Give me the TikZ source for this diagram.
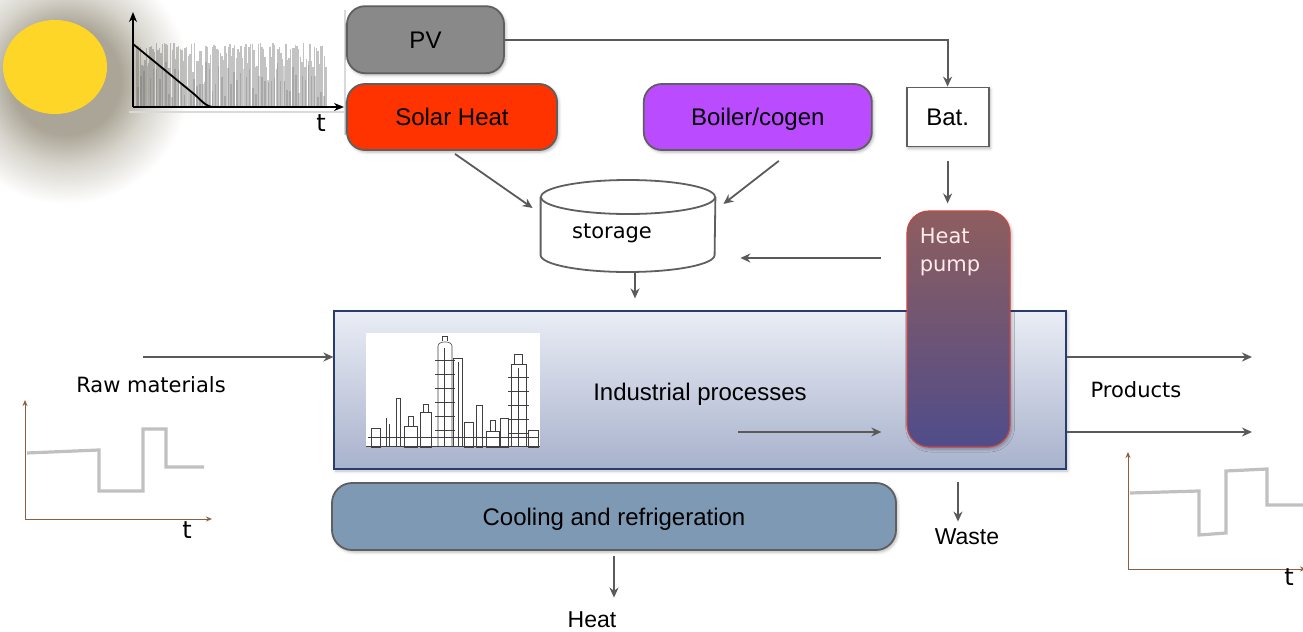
\documentclass[tikz,border=0pt]{standalone}
\usepackage{fontspec}
\setmainfont{Liberation Sans}
\newfontfamily\verdana{DejaVu Sans}
\usepackage{tikz}
\usetikzlibrary{arrows.meta, positioning, calc, shadows.blur}
\definecolor{EdgeGray}{RGB}{95, 95, 95}
\definecolor{ArrowGray}{RGB}{90, 90, 90}
\definecolor{PVGray}{RGB}{137, 137, 137}
\definecolor{SolarRed}{RGB}{255, 51, 0}
\definecolor{BoilerPurple}{RGB}{187, 75, 255}
\definecolor{CoolBlue}{RGB}{126, 153, 180}
\definecolor{ProcTop}{RGB}{234, 237, 245}
\definecolor{ProcBottom}{RGB}{168, 178, 204}
\definecolor{ProcEdge}{RGB}{40, 60, 110}
\definecolor{HPTop}{RGB}{142, 94, 94}
\definecolor{HPMid}{RGB}{138, 80, 86}
\definecolor{HPBottom}{RGB}{80, 76, 138}
\definecolor{HPEdge}{RGB}{200, 70, 70}
\definecolor{SunYellow}{RGB}{253, 214, 39}
\definecolor{GlowDark}{RGB}{170, 165, 150}
\definecolor{GlowMid}{RGB}{215, 212, 204}
\definecolor{AxisBrown}{RGB}{140, 95, 65}
\definecolor{StepGray}{RGB}{192, 192, 192}
\definecolor{NoiseGray}{RGB}{105, 105, 105}
\pgfdeclareradialshading{sunglow}{\pgfpoint{0bp}{0bp}}{%
  color(0bp)=(GlowDark); color(11bp)=(GlowDark); color(17bp)=(GlowMid);
  color(25bp)=(white); color(50bp)=(white)}
\tikzset{
  box/.style={rectangle, rounded corners=9pt, draw=EdgeGray, line width=0.9pt,
    font=\fontsize{12}{14}\selectfont, text=black, text height=8.6pt, text depth=0pt,
    blur shadow={shadow xshift=0.8pt, shadow yshift=-1pt,
      shadow blur radius=1.5pt, shadow opacity=30}},
  arr/.style={-{Stealth[length=5pt, width=4.5pt]}, line width=0.9pt, color=ArrowGray},
  lbl/.style={font=\fontsize{11.5}{13}\selectfont, inner sep=1pt},
  vlbl/.style={font=\verdana\fontsize{10.5}{13}\selectfont, inner sep=1pt},
  axis/.style={-{Stealth[length=3pt, width=2.5pt]}, line width=0.5pt, color=AxisBrown},
  stepline/.style={StepGray, line width=1.6pt},
  cyl/.style={draw=EdgeGray, line width=0.9pt, fill=white},
  plant/.style={line width=0.3pt, draw=black!75},
}

\begin{document}
\begin{tikzpicture}[x=0.5pt, y=-0.5pt]
  \useasboundingbox (0,0) rectangle (1303,632);

  % sun with its halo
  \shade[shading=sunglow] (66,80) circle (62pt);
  \fill[SunYellow] (55,67) ellipse (26pt and 23.5pt);

  % solar irradiance over time
  \draw[black!15, line width=0.6pt] (345,10) -- (345,135);
  \pgfmathsetseed{42}
  \foreach \i in {0,...,118} {
    \pgfmathsetmacro{\xx}{137+1.6*\i}
    \pgfmathsetmacro{\yy}{43+40*rnd*rnd}
    \draw[NoiseGray, opacity=0.4, line width=0.7pt] (\xx,106) -- (\xx,\yy);
  }
  \foreach \i in {0,...,60} {
    \pgfmathsetmacro{\xx}{138+3.1*\i}
    \pgfmathsetmacro{\yy}{62+35*rnd}
    \draw[NoiseGray, opacity=0.3, line width=0.8pt] (\xx,106) -- (\xx,\yy);
  }
  \draw[black!15, line width=0.8pt] (129,112) -- (345,112);
  \draw[black, line width=0.9pt] (133,44) -- (194,94)
    .. controls (202,101) and (206,107) .. (214,107);
  \draw[-{Stealth[length=5pt, width=4pt]}, line width=0.9pt] (133,107) -- (133,12);
  \draw[-{Stealth[length=5pt, width=4pt]}, line width=0.9pt] (133,107) -- (344,107);
  \node[font=\verdana\fontsize{12}{14}\selectfont, inner sep=1pt] (tsun) at (321,123) {t};

  % supply side
  \node[box, fill=SolarRed, minimum width=105pt, minimum height=33pt] (solar)
    at (452,117) {Solar Heat};
  \node[box, fill=PVGray, minimum width=78.5pt, minimum height=33.5pt,
        above=4.5pt of solar.north west, anchor=south west] (pv) {PV};
  \node[box, fill=BoilerPurple, minimum width=114pt, minimum height=33pt,
        right=42.5pt of solar] (boiler) {Boiler/cogen};
  \node[box, rounded corners=0pt, fill=white, minimum width=41pt,
        minimum height=29.5pt, right=16.5pt of boiler] (bat) {Bat.};

  % storage tank
  \node[minimum width=87pt, minimum height=46pt, inner sep=0pt] (store) at (628,226) {};
  \draw[cyl] ([yshift=14.5pt]store.west) -- ([yshift=-14.5pt]store.west)
    arc[start angle=180, end angle=360, x radius=43.5pt, y radius=8.5pt]
    -- ([yshift=14.5pt]store.east);
  \draw[cyl] ([yshift=14.5pt]store.center) ellipse [x radius=43.5pt, y radius=8.5pt];
  \node[vlbl] (storelbl) at (612,233) {storage};

  % process block
  \node[rectangle, draw=ProcEdge, line width=0.6pt, top color=ProcTop,
        bottom color=ProcBottom, minimum width=366pt, minimum height=79pt,
        font=\fontsize{12}{14}\selectfont, text height=10.6pt, text depth=0pt,
        blur shadow={shadow xshift=0.8pt, shadow yshift=-1pt,
          shadow blur radius=1.5pt, shadow opacity=25}] (proc)
    at (700,390) {Industrial processes};

  % plant sketch
  \begin{scope}[plant]
    \fill[white] (366,333) rectangle (540,447);
    \draw (438,447) -- (438,346) to[out=90, in=90] (452,346) -- (452,447);
    \draw (442,341) -- (442,336) -- (447,336) -- (447,341);
    \draw (453,447) -- (453,358) -- (462,358) -- (462,447);
    \draw (511,447) -- (511,364) -- (526,364) -- (526,447);
    \draw (514,364) -- (514,354) -- (522,354) -- (522,364);
    \foreach \y in {360,374,...,442} \draw (435,\y) -- (455,\y);
    \foreach \y in {377,391,...,445} \draw (508,\y) -- (529,\y);
    \draw (444,348) -- (444,447) (458,362) -- (458,447) (518,368) -- (518,447);
    \draw (476,447) rectangle (482,405);
    \draw (396,447) -- (396,398) -- (400,398) -- (400,447);
    \draw (386,447) -- (386,418) (389,447) -- (389,424);
    \draw (371,447) rectangle (380,428);
    \draw (404,447) rectangle (417,426) (408,426) -- (408,416) -- (413,416) -- (413,426);
    \draw (420,447) rectangle (431,412) (423,412) -- (423,404) -- (428,404) -- (428,412);
    \draw (464,447) rectangle (473,422);
    \draw (486,447) rectangle (499,431) (490,431) -- (490,420) -- (495,420) -- (495,431);
    \draw (500,447) rectangle (508,418);
    \draw (528,447) rectangle (538,430);
    \draw (368,437) -- (538,437);
    \draw (366,446) -- (540,446);
  \end{scope}

  % heat pump over the process block
  \node[rectangle, rounded corners=11pt, draw=HPEdge, line width=0.6pt,
        top color=HPTop, middle color=HPMid, bottom color=HPBottom,
        minimum width=51.5pt, minimum height=118pt,
        blur shadow={shadow xshift=0.8pt, shadow yshift=-1pt,
          shadow blur radius=1.5pt, shadow opacity=30}] (hp) at (958.5,329) {};
  \node[font=\verdana\fontsize{10.5}{14}\selectfont, text=white!92!red,
        align=left, anchor=north west, inner sep=0pt] (hplbl)
    at ([xshift=6.5pt, yshift=-8.5pt]hp.north west) {Heat\\pump};

  \node[box, fill=CoolBlue, rounded corners=10pt, minimum width=282pt,
        minimum height=33.5pt] (cool) at (614,516.5) {Cooling and refrigeration};

  % flow labels
  \node[vlbl] (raw) at (151,385) {Raw materials};
  \node[vlbl] (prod) at (1136,390) {Products};
  \node[lbl] (waste) at (967,537) {Waste};
  \node[lbl] (heat) at (592,620) {Heat};

  \coordinate (rawin) at (143,357);
  \coordinate (prodA) at (1252,357);
  \coordinate (prodB) at (1252,432);
  \coordinate (inner) at (738,432);
  \coordinate (hpout) at (958,258);
  \coordinate (wastetop) at (958,482);

  % connectors
  \draw[arr] (pv.east) -| (bat.north);
  \draw[arr] ([xshift=1.5pt, yshift=-1.5pt]solar.south)
    -- ([xshift=-4pt, yshift=9pt]store.west);
  \draw[arr] ([xshift=10.5pt, yshift=-5pt]boiler.south)
    -- ([xshift=4pt, yshift=11pt]store.east);
  \draw[arr, shorten <=7pt, shorten >=3.5pt] (bat.south) -- (bat.south |- hp.north);
  \draw[arr, shorten <=12.5pt, shorten >=12.5pt] (hpout -| hp.west) -- (hpout -| store.east);
  \draw[arr, shorten >=6pt] ([xshift=3.5pt]store.south) -- ([xshift=3.5pt]store.south |- proc.north);
  \draw[arr] (rawin) -- (rawin -| proc.west);
  \draw[arr] (prodA -| proc.east) -- (prodA);
  \draw[arr] (prodB -| proc.east) -- (prodB);
  \draw[arr, shorten >=12.5pt] (inner) -- (inner -| hp.west);
  \draw[arr, shorten >=2.5pt] (wastetop) -- (wastetop |- waste.north);
  \draw[arr, shorten <=2.5pt, shorten >=6pt] (cool.south) -- (cool.south |- heat.north);

  % load profiles
  \draw[axis] (25,519) -- (25,400);
  \draw[axis] (25,519) -- (212,519);
  \draw[stepline] (27,453) -- (99,450) -- (99,491) -- (143,491) -- (143,429)
    -- (166,429) -- (166,467) -- (204,467);
  \node[font=\verdana\fontsize{12}{14}\selectfont, inner sep=1pt] (tleft) at (187,530) {t};

  \draw[axis] (1128,569) -- (1128,452);
  \draw[axis] (1128,569) -- (1306,569);
  \draw[stepline] (1130,493) -- (1199,491) -- (1199,535) -- (1226,533) -- (1226,471)
    -- (1267,469) -- (1267,505) -- (1303,505);
  \node[font=\verdana\fontsize{12}{14}\selectfont, inner sep=1pt] (tright) at (1289,577) {t};
\end{tikzpicture}
\end{document}
